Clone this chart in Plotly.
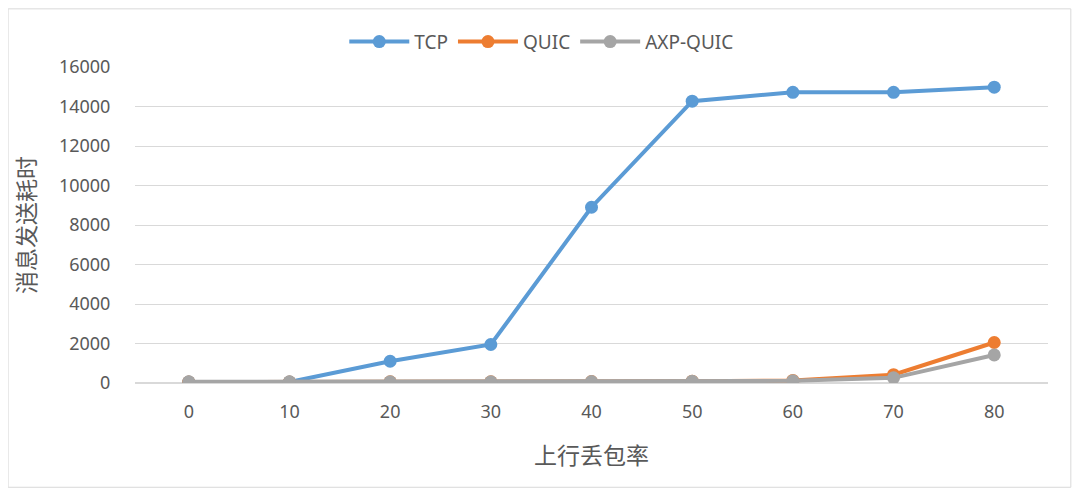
import plotly.graph_objects as go

# packet loss rate categories
lossRate = ['0', '10', '20', '30', '40', '50', '60', '70', '80']

# send time per protocol
tcpTime = [50, 50, 1100, 1950, 8900, 14270, 14720, 14720, 14980]
quicTime = [50, 50, 60, 60, 70, 90, 130, 420, 2050]
axpTime = [60, 60, 60, 60, 70, 90, 110, 260, 1420]

yTicks = [0, 2000, 4000, 6000, 8000, 10000, 12000, 14000, 16000]

fontFam = "Noto Sans, Noto Sans CJK SC, sans-serif"
grey = '#595959'

fig = go.Figure()
fig.add_trace(go.Scatter(x=lossRate, y=tcpTime, name='TCP', mode='lines+markers',
                         line=dict(color='#5B9BD5', width=4), marker=dict(size=13)))
fig.add_trace(go.Scatter(x=lossRate, y=quicTime, name='QUIC', mode='lines+markers',
                         line=dict(color='#ED7D31', width=4), marker=dict(size=13)))
fig.add_trace(go.Scatter(x=lossRate, y=axpTime, name='AXP-QUIC', mode='lines+markers',
                         line=dict(color='#A5A5A5', width=4), marker=dict(size=13)))

# page body has an 8px margin, so the figure is shrunk to fit the window
fig.update_layout(
  width=1064, height=480,
  margin=dict(l=127, r=24, t=59, b=105, autoexpand=False),
  paper_bgcolor='white', plot_bgcolor='white',
  font=dict(family=fontFam, size=18, color=grey),
  legend=dict(orientation='h', x=0.445, xanchor='center', y=1.08, yanchor='middle',
              font=dict(size=19, color=grey), itemwidth=60),
  xaxis=dict(type='category', showgrid=False, showline=False, ticks='outside', ticklen=12,
             tickcolor='white',
             title=dict(text='上行丢包率', font=dict(size=23, color=grey), standoff=26)),
  yaxis=dict(range=[0, 16000], tickvals=yTicks, tickformat='d', showgrid=True, gridcolor='#D9D9D9',
             gridwidth=1, zeroline=True, zerolinecolor='#D9D9D9', ticks='outside', ticklen=20,
             tickcolor='white',
             title=dict(text='消息发送耗时', font=dict(size=23, color=grey), standoff=16)),
  shapes=[dict(type='rect', xref='paper', yref='paper', x0=-0.139, x1=1.025, y0=-0.33, y1=1.184,
               line=dict(color='#D9D9D9', width=1))],
)

fig.write_html("out.html")
